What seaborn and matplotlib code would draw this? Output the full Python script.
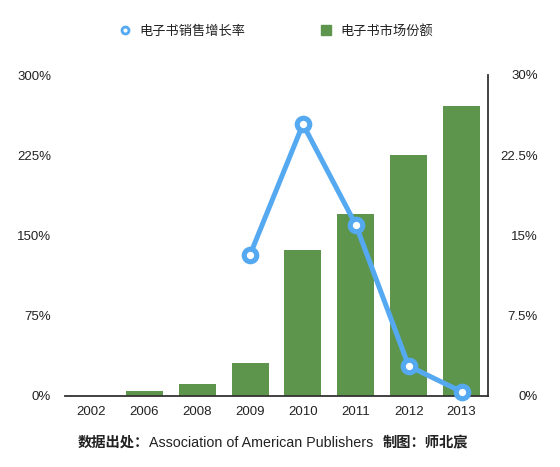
import numpy as np
import pandas as pd
import matplotlib
matplotlib.use("Agg")
import matplotlib.pyplot as plt
import seaborn as sns
from matplotlib.lines import Line2D
from matplotlib.ticker import FixedLocator, FuncFormatter

# ---- data ----
years = ['2002', '2006', '2008', '2009', '2010', '2011', '2012', '2013']
share_pct = [0.0, 0.47, 1.13, 3.1, 13.6, 17.0, 22.5, 27.1]          # right axis (bars)
growth_pct = [np.nan, np.nan, np.nan, 132, 254, 160, 28, 4]          # left axis (line)
left_ticks = [0, 75, 150, 225, 300]
right_ticks = [0, 7.5, 15, 22.5, 30]
legend_labels = ['电子书销售增长率', '电子书市场份额']
source_cn = '数据出处：'
source_en = 'Association of American Publishers'
credit_cn = '制图：师北宸'

GREEN = '#5e954d'
BLUE = '#55a9f1'
TXT = '#222222'
CJK = ['Noto Sans CJK SC', 'DejaVu Sans']

sns.set_style('white')
plt.rcParams['font.family'] = ['Liberation Sans', 'Noto Sans CJK SC', 'DejaVu Sans']

W, H = 560, 467
fig = plt.figure(figsize=(W / 100, H / 100), dpi=100)
fig.patch.set_facecolor('white')
ax = fig.add_axes([65 / W, 1 - 396 / H, (488 - 65) / W, (396 - 75) / H])
ax2 = ax.twinx()

df = pd.DataFrame({'year': years, 'share': share_pct, 'growth': growth_pct})

sns.barplot(data=df, x='year', y='share', order=years, color=GREEN, saturation=1,
            width=0.7, linewidth=0, ax=ax2, zorder=2)
sns.pointplot(data=df, x='year', y='growth', order=years, ax=ax, color=BLUE,
              errorbar=None, markers='o', markersize=9, markeredgewidth=3.7,
              markerfacecolor='white', markeredgecolor=BLUE, linewidth=3.6,
              zorder=5, clip_on=False)

ax.set_zorder(ax2.get_zorder() + 1)
ax.patch.set_visible(False)

ax.set_xlim(-0.5, 7.5)
ax.set_ylim(0, 300)
ax2.set_ylim(0, 30)
for a in (ax, ax2):
    a.set_xlabel('')
    a.set_ylabel('')

# spines
for s in ('top', 'left', 'right'):
    ax.spines[s].set_visible(False)
ax.spines['bottom'].set_color('#333333')
ax.spines['bottom'].set_linewidth(1.3)
for s in ('top', 'left', 'bottom'):
    ax2.spines[s].set_visible(False)
ax2.spines['right'].set_color('#333333')
ax2.spines['right'].set_linewidth(1.3)

# ticks
pct = FuncFormatter(lambda v, p: f'{v:g}%')
ax.yaxis.set_major_locator(FixedLocator(left_ticks))
ax.yaxis.set_major_formatter(pct)
ax2.yaxis.set_major_locator(FixedLocator(right_ticks))
ax2.yaxis.set_major_formatter(pct)
ax.tick_params(axis='y', length=0, pad=10, labelsize=9.5, labelcolor=TXT)
ax.tick_params(axis='x', length=0, pad=7, labelsize=9.5, labelcolor=TXT)
ax2.tick_params(axis='y', which='both', length=0, pad=36, labelsize=9.5, labelcolor=TXT)
plt.setp(ax2.get_yticklabels(), ha='right')

# gridlines (interior only), below bars
ax.grid(False)
ax2.grid(False)
ax2.yaxis.set_minor_locator(FixedLocator(right_ticks[1:-1]))
ax2.grid(axis='y', which='minor', color='#dcdcdc', linewidth=0.8)
ax2.set_axisbelow(True)

# legend
handles = [
    Line2D([], [], marker='o', ls='none', markersize=5, markerfacecolor='white',
           markeredgecolor=BLUE, markeredgewidth=2),
    Line2D([], [], marker='s', ls='none', markersize=6.5, color=GREEN),
]
fig.legend(handles, legend_labels, loc='center', bbox_to_anchor=(276 / W, 1 - 31 / H),
           ncol=2, frameon=False, handlelength=1, handletextpad=0.6, columnspacing=5.6,
           prop={'family': CJK, 'size': 9.5}, labelcolor=TXT)

# footer
yb = 1 - 447 / H
fig.canvas.draw()
r = fig.canvas.get_renderer()
t1 = fig.text(78 / W, yb, source_cn, family=CJK, weight='bold', size=10.3,
              va='baseline', ha='left', color=TXT)
bb = t1.get_window_extent(r)
t2 = fig.text(bb.x1 / W, yb, source_en, family=['Liberation Sans', 'DejaVu Sans'],
              size=10.3, va='baseline', ha='left', color=TXT)
bb = t2.get_window_extent(r)
t3 = fig.text((bb.x1 + 9) / W, yb, credit_cn, family=CJK, weight='bold', size=10.3,
              va='baseline', ha='left', color=TXT)

fig.savefig('out.png', dpi=100, facecolor='white')
